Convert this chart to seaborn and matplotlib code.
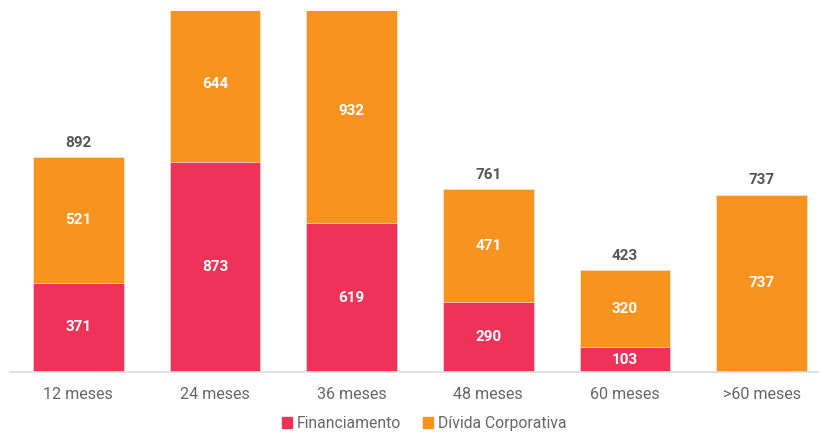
import numpy as np
import pandas as pd
import matplotlib
matplotlib.use("Agg")
import matplotlib.pyplot as plt
import seaborn as sns
from matplotlib.patches import Patch

categorias = ["12 meses", "24 meses", "36 meses", "48 meses", "60 meses", ">60 meses"]
financiamento = [371, 873, 619, 290, 103, 0]
divida_corporativa = [521, 644, 932, 471, 320, 737]

cor_fin = "#EF3358"
cor_div = "#F7931E"

df = pd.DataFrame({"Prazo": categorias, "Financiamento": financiamento,
                   "Divida": divida_corporativa})
df["Total"] = df["Financiamento"] + df["Divida"]

sns.set_style("white")
plt.rcParams["font.family"] = ["Roboto", "DejaVu Sans"]

fig = plt.figure(figsize=(8.19, 4.34), dpi=100)
ax = fig.add_axes([10 / 819, 62 / 434, 1 - 10 / 819, 361 / 434])

sns.barplot(data=df, x="Prazo", y="Total", color=cor_div, width=0.665,
            saturation=1, edgecolor="#fbe3c6", linewidth=0.6, ax=ax)
sns.barplot(data=df, x="Prazo", y="Financiamento", color=cor_fin, width=0.665,
            saturation=1, edgecolor="#f9c9d2", linewidth=0.6, ax=ax)

ymax = 1500
ax.set_ylim(0, ymax)
ax.set_xlim(-0.5, 5.42)

for i, (f, d) in enumerate(zip(financiamento, divida_corporativa)):
    if f > 0:
        ax.text(i, f / 2, str(f), ha="center", va="center", color="white",
                fontsize=11, fontweight="bold")
    if d > 0:
        ax.text(i, f + d / 2, str(d), ha="center", va="center", color="white",
                fontsize=11, fontweight="bold")
    # totals above the visible range are cut off in the reference
    if f + d + 120 < ymax:
        ax.text(i, f + d + 30, str(f + d), ha="center", va="bottom", color="#555555",
                fontsize=11, fontweight="bold")

ax.set_xlabel("")
ax.set_ylabel("")
ax.set_yticks([])
ax.tick_params(axis="x", length=0, pad=11, labelsize=11.6, labelcolor="#666666")
for s in ["top", "right", "left"]:
    ax.spines[s].set_visible(False)
ax.spines["bottom"].set_color("#dddddd")
ax.spines["bottom"].set_linewidth(1.2)

handles = [Patch(color=cor_fin, label="Financiamento"),
           Patch(color=cor_div, label="Dívida Corporativa")]
fig.legend(handles=handles, loc="center", bbox_to_anchor=(0.518, 0.024),
           ncol=2, frameon=False, fontsize=11.3, handlelength=0.65, handleheight=0.65,
           handletextpad=0.3, columnspacing=1.4, labelcolor="#666666")

fig.savefig("out.png", dpi=100)
